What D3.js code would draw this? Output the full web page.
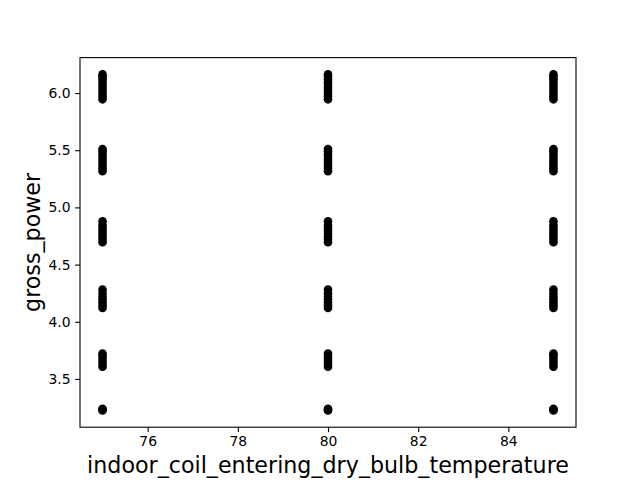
<!DOCTYPE html>
<html>
<head>
<meta charset="utf-8">
<script src="https://cdn.jsdelivr.net/npm/d3@7"></script>
<style>
  body { margin: 0; background: #fff; }
  svg { display: block; }
  text { font-family: "DejaVu Sans", sans-serif; fill: #000; }
</style>
</head>
<body>
<svg id="chart" width="640" height="480"></svg>
<script>
// Data: temperature levels and gross power values (same set at each level)
const temperatures = [75, 80, 85];
const powerCluster1 = [5.945, 5.97, 5.995, 6.02, 6.045, 6.07, 6.095, 6.12, 6.145, 6.163];
const powerCluster2 = [5.316, 5.34, 5.365, 5.39, 5.415, 5.44, 5.465, 5.49, 5.51];
const powerCluster3 = [4.695, 4.72, 4.745, 4.77, 4.795, 4.82, 4.845, 4.878];
const powerCluster4 = [4.121, 4.145, 4.17, 4.195, 4.22, 4.25, 4.281];
const powerCluster5 = [3.607, 3.63, 3.655, 3.68, 3.705, 3.723];
const powerCluster6 = [3.225, 3.232, 3.239];
const xTicks = [76, 78, 80, 82, 84];
const yTicks = [3.5, 4.0, 4.5, 5.0, 5.5, 6.0];

const powerValues = [].concat(powerCluster1, powerCluster2, powerCluster3,
                              powerCluster4, powerCluster5, powerCluster6);
const points = [];
temperatures.forEach(t => powerValues.forEach(p => points.push({x: t, y: p})));

const svg = d3.select("#chart");
const mLeft = 80, mRight = 576, mTop = 57.6, mBottom = 427.2;

function padded(ext) {
  const d = (ext[1] - ext[0]) * 0.05;
  return [ext[0] - d, ext[1] + d];
}
const x = d3.scaleLinear().domain(padded(d3.extent(temperatures))).range([mLeft, mRight]);
const y = d3.scaleLinear().domain(padded(d3.extent(powerValues))).range([mBottom, mTop]);

// points
svg.append("g").selectAll("circle").data(points).enter().append("circle")
  .attr("cx", d => x(d.x)).attr("cy", d => y(d.y)).attr("r", 4.3)
  .attr("fill", "#000");

// frame
svg.append("rect").attr("x", mLeft).attr("y", mTop)
  .attr("width", mRight - mLeft).attr("height", mBottom - mTop)
  .attr("fill", "none").attr("stroke", "#000").attr("stroke-width", 1.1);

// axes
const xAxis = svg.append("g").attr("transform", `translate(0,${mBottom})`)
  .call(d3.axisBottom(x).tickValues(xTicks).tickSize(4.9).tickPadding(4.5).tickFormat(d3.format("d")));
const yAxis = svg.append("g").attr("transform", `translate(${mLeft},0)`)
  .call(d3.axisLeft(y).tickValues(yTicks).tickSize(4.9).tickPadding(4.5).tickFormat(d3.format(".1f")));
[xAxis, yAxis].forEach(a => {
  a.select(".domain").remove();
  a.selectAll(".tick line").attr("stroke", "#000").attr("stroke-width", 1.1);
  a.selectAll(".tick text").attr("font-size", "13.9px").attr("font-family", "DejaVu Sans, sans-serif").attr("fill", "#000");
});

// labels
svg.append("text").attr("x", (mLeft + mRight) / 2).attr("y", 473)
  .attr("text-anchor", "middle").attr("font-size", "22.2px")
  .text("indoor_coil_entering_dry_bulb_temperature");
svg.append("text").attr("transform", `translate(40,${(mTop + mBottom) / 2}) rotate(-90)`)
  .attr("text-anchor", "middle").attr("font-size", "22.2px")
  .text("gross_power");
</script>
</body>
</html>
